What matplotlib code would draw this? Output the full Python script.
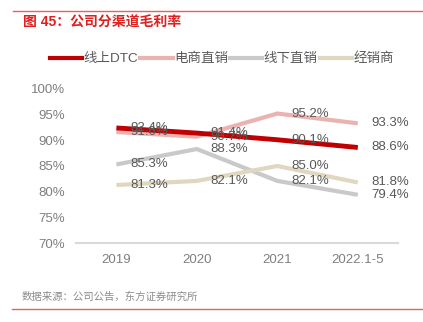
import matplotlib.pyplot as plt
from matplotlib.lines import Line2D

plt.rcParams['font.family'] = ['Liberation Sans', 'Noto Sans CJK SC', 'DejaVu Sans']

# 数据
years = ["2019", "2020", "2021", "2022.1-5"]
dtc = [92.4, 91.4, 90.1, 88.6]
ecom = [91.6, 90.7, 95.2, 93.3]
offline = [85.3, 88.3, 82.1, 79.4]
dealer = [81.3, 82.1, 85.0, 81.8]
series_names = ["线上DTC", "电商直销", "线下直销", "经销商"]
yticks = [70, 75, 80, 85, 90, 95, 100]

colors = ["#C00000", "#EBB2B2", "#C9C9C9", "#E0D7C0"]
text_c = "#595959"

fig = plt.figure(figsize=(4.23, 3.22), dpi=100)
ax = fig.add_axes([0.180, 0.245, 0.761, 0.479])

x = list(range(len(years)))
all_series = [ecom, offline, dealer, dtc]
all_colors = [colors[1], colors[2], colors[3], colors[0]]
all_lw = [3, 3, 3, 3.5]
for vals, c, w in zip(all_series, all_colors, all_lw):
    ax.plot(x, vals, color=c, lw=w, solid_capstyle='butt', zorder=2)

# 数据标签
for vals in [dtc, ecom, offline, dealer]:
    for xi, v in zip(x, vals):
        ax.annotate('{:.1f}%'.format(v), xy=(xi, v), xytext=(10, 0),
                    textcoords="offset points", ha='left', va='center',
                    fontsize=9.5, color=text_c, zorder=3)

ax.set_xlim(-0.5, 3.5)
ax.set_ylim(70, 100)
ax.set_yticks(yticks)
ax.set_yticklabels(['{}%'.format(t) for t in yticks])
ax.set_xticks(x)
ax.set_xticklabels(years)
ax.tick_params(length=0, labelsize=9.5, labelcolor='#7F7F7F', pad=8)
ax.tick_params(axis='y', pad=8)
for s in ['top', 'right', 'left']:
    ax.spines[s].set_visible(False)
ax.spines['bottom'].set_color('#D9D9D9')
ax.spines['bottom'].set_linewidth(1.5)

# 图例
handles = [Line2D([0], [0], color=c, lw=3) for c in colors]
fig.legend(handles, series_names, loc='center', bbox_to_anchor=(0.525, 0.817),
           ncol=4, frameon=False, fontsize=9.7, handlelength=2.4,
           handletextpad=0.1, columnspacing=0.15, labelcolor=text_c)

# 标题与来源
fig.text(0.054, 0.928, "图 45：公司分渠道毛利率", fontsize=10, fontweight='bold',
         color='#E02020', va='center', ha='left')
fig.text(0.052, 0.078, "数据来源：公司公告，东方证券研究所", fontsize=7.5,
         color='#8C8C8C', va='center', ha='left')
fig.add_artist(Line2D([0.031, 1.0], [0.966, 0.966], color='#E86060', lw=1))
fig.add_artist(Line2D([0.028, 1.0], [0.040, 0.040], color='#E86060', lw=1))

fig.savefig("out.png", dpi=100)
